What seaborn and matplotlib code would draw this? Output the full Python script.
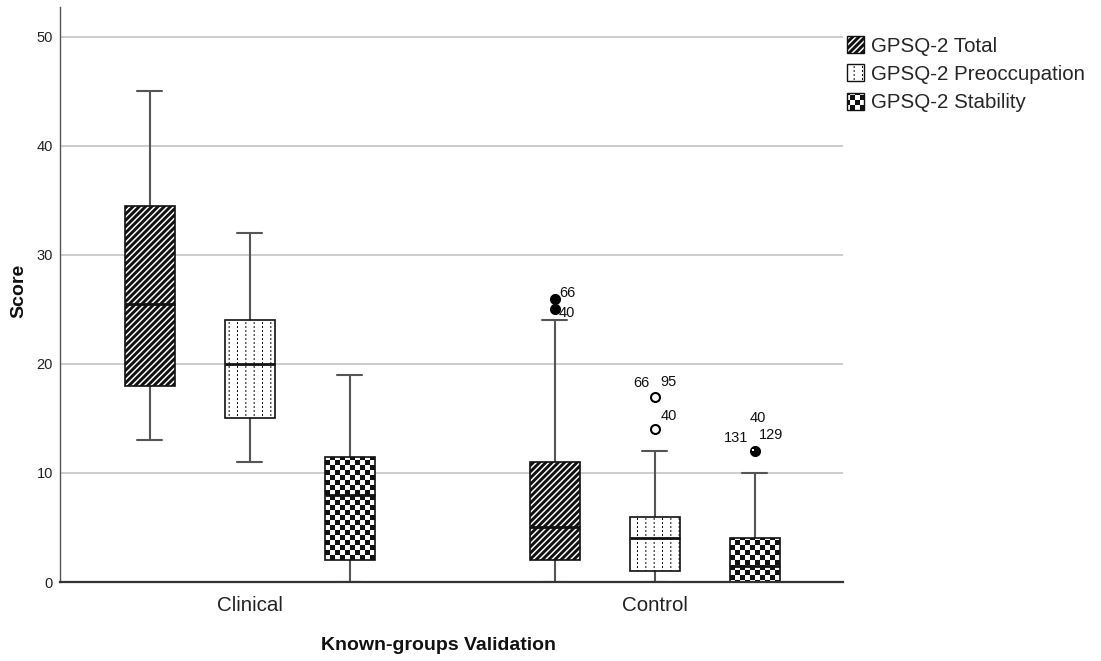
import numpy as np
import pandas as pd
import seaborn as sns
import matplotlib
matplotlib.use("Agg")
import matplotlib.pyplot as plt
import matplotlib.hatch as mhatch
from matplotlib.patches import Patch
from matplotlib.path import Path
from matplotlib.transforms import ScaledTranslation

# ---------------------------------------------------------------- data
groups = ["Clinical", "Control"]
measures = ["GPSQ-2 Total", "GPSQ-2 Preoccupation", "GPSQ-2 Stability"]

# Five-number summaries: one row per group, one column per measure
whisker_low = [[13, 11, 0], [0, 0, 0]]
quartile_1 = [[18, 15, 2], [2, 1, 0]]
medians = [[25.5, 20, 8], [5, 4, 1.5]]
quartile_3 = [[34.5, 24, 11.5], [11, 6, 4]]
whisker_high = [[45, 32, 19], [24, 12, 10]]

# Outlying cases
outlier_group = ["Control", "Control", "Control", "Control", "Control"]
outlier_measure = ["GPSQ-2 Total", "GPSQ-2 Total", "GPSQ-2 Preoccupation",
                   "GPSQ-2 Preoccupation", "GPSQ-2 Stability"]
outlier_score = [26, 25, 17, 14, 12]
outlier_cases = [["66"], ["40"], ["66", "95"], ["40"], ["40", "131", "129"]]

y_ticks = [0, 10, 20, 30, 40, 50]

# ---------------------------------------------------------------- fill patterns
def _polygons(polys):
    verts, codes = [], []
    for p in polys:
        verts.extend(list(p) + [p[0]])
        codes.extend([Path.MOVETO] + [Path.LINETO] * (len(p) - 1) + [Path.CLOSEPOLY])
    return np.array(verts, float), np.array(codes, dtype=Path.code_type)


def _rect(x0, y0, x1, y1):
    return [(x0, y0), (x1, y0), (x1, y1), (x0, y1)]


class _FilledPattern:
    char = None

    def __init__(self, hatch, density):
        if hatch.count(self.char):
            self.verts, self.codes = _polygons(self.shapes())
        else:
            self.verts, self.codes = np.empty((0, 2)), np.empty(0, dtype=Path.code_type)
        self.num_vertices = len(self.codes)

    def set_vertices_and_codes(self, vertices, codes):
        vertices[:] = self.verts
        codes[:] = self.codes


class DiagonalBands(_FilledPattern):
    char = "/"

    def shapes(self):
        n = 16
        w = 0.66 / n
        return [[(k / n, 0), (k / n + w, 0), (k / n + w + 1, 1), (k / n + 1, 1)]
                for k in range(-n, n)]


class DottedColumns(_FilledPattern):
    char = "|"

    def shapes(self):
        cols, rows, hw = 12, 25, 0.005
        out = []
        for i in range(cols):
            xc = (i + 0.5) / cols
            for j in range(rows):
                out.append(_rect(xc - hw, j / rows, xc + hw, (j + 0.5) / rows))
        return out


class Checkerboard(_FilledPattern):
    char = "+"

    def shapes(self):
        n = 20
        return [_rect(i / n, j / n, (i + 1) / n, (j + 1) / n)
                for i in range(n) for j in range(n) if (i + j) % 2 == 0]


mhatch._hatch_types[:] = [DiagonalBands, DottedColumns, Checkerboard]
pattern_of = {"GPSQ-2 Total": "/", "GPSQ-2 Preoccupation": "|", "GPSQ-2 Stability": "+"}

# ---------------------------------------------------------------- style
sns.set_theme(style="white")
plt.rcParams["font.family"] = ["Liberation Sans", "DejaVu Sans"]
plt.rcParams["hatch.linewidth"] = 0.01

W, H = 1101, 661
fig, ax = plt.subplots(figsize=(W / 100, H / 100), dpi=100)
fig.subplots_adjust(left=60 / W, right=843 / W, bottom=1 - 582 / H, top=1 - 7 / H)

dodge = 0.247
box_w = 0.1235


def xpos(group, measure):
    return groups.index(group) + (measures.index(measure) - 1) * dodge


# ---------------------------------------------------------------- boxes
stats, positions = [], []
for gi, g in enumerate(groups):
    for mi, m in enumerate(measures):
        stats.append(dict(med=medians[gi][mi], q1=quartile_1[gi][mi], q3=quartile_3[gi][mi],
                          whislo=whisker_low[gi][mi], whishi=whisker_high[gi][mi], fliers=[]))
        positions.append(xpos(g, m))

parts = ax.bxp(stats, positions=positions, widths=box_w, capwidths=box_w / 2,
               patch_artist=True, showfliers=False, manage_ticks=False,
               boxprops=dict(facecolor="white", edgecolor="#111111", linewidth=1.2),
               whiskerprops=dict(color="#555555", linewidth=1.5),
               capprops=dict(color="#555555", linewidth=1.5),
               medianprops=dict(color="#111111", linewidth=2.0))

for k, box in enumerate(parts["boxes"]):
    box.set_hatch(pattern_of[measures[k % len(measures)]])
    box.set_zorder(3)
for line in parts["medians"]:
    line.set_zorder(4)
for line in parts["whiskers"] + parts["caps"]:
    line.set_zorder(2.5)

# ---------------------------------------------------------------- outliers
out = pd.DataFrame({"group": outlier_group, "measure": outlier_measure,
                    "score": outlier_score, "cases": outlier_cases})
out["x"] = [xpos(g, m) for g, m in zip(out["group"], out["measure"])]

marker_face = {"GPSQ-2 Total": "black", "GPSQ-2 Preoccupation": "white",
               "GPSQ-2 Stability": "black"}
for m in measures:
    sub = out[out["measure"] == m]
    if len(sub):
        sns.scatterplot(data=sub, x="x", y="score", ax=ax, marker="o", s=42,
                        color=marker_face[m], edgecolor="black", linewidth=1.5,
                        legend=False, zorder=5)

# small white notch on the overlapping-cases marker
stab = out[out["measure"] == "GPSQ-2 Stability"]
notch = ax.transData + ScaledTranslation(-1.2 / 72, 1.0 / 72, fig.dpi_scale_trans)
ax.scatter(stab["x"], stab["score"], s=3, marker="s", color="white",
           linewidths=0, transform=notch, zorder=6)

# case-id labels, offsets in points (dx, dy, ha)
label_offsets = {
    ("GPSQ-2 Total", 26): [(3.6, 4.0, "left")],
    ("GPSQ-2 Total", 25): [(2.9, -2.6, "left")],
    ("GPSQ-2 Preoccupation", 17): [(-3.6, 9.5, "right"), (4.3, 10.6, "left")],
    ("GPSQ-2 Preoccupation", 14): [(4.3, 9.6, "left")],
    ("GPSQ-2 Stability", 12): [(2.2, 24.0, "center"), (-5.0, 9.5, "right"), (2.9, 11.3, "left")],
}
for _, r in out.iterrows():
    for case, (dx, dy, ha) in zip(r["cases"], label_offsets[(r["measure"], r["score"])]):
        ax.annotate(case, (r["x"], r["score"]), xytext=(dx, dy), textcoords="offset points",
                    ha=ha, va="center", fontsize=10.5, color="#111111", zorder=7)

# ---------------------------------------------------------------- axes
ax.set_xlim(-0.468, 1.465)
ax.set_ylim(0, 52.75)
ax.set_yticks(y_ticks)
ax.set_yticklabels([str(t) for t in y_ticks], fontsize=10.5, color="#222222")
ax.set_xticks(range(len(groups)))
ax.set_xticklabels(groups, fontsize=14.8, color="#222222")
ax.tick_params(axis="both", length=0)
ax.tick_params(axis="x", pad=10)
ax.tick_params(axis="y", pad=5)

ax.yaxis.grid(True, color="#c8c8c8", linewidth=1.3)
ax.xaxis.grid(False)
ax.set_axisbelow(True)

for side in ("top", "right"):
    ax.spines[side].set_visible(False)
ax.spines["left"].set_color("#555555")
ax.spines["left"].set_linewidth(1.0)
ax.spines["bottom"].set_color("#333333")
ax.spines["bottom"].set_linewidth(1.6)
ax.spines["bottom"].set_zorder(4)

ax.set_xlabel("Known-groups Validation", fontsize=14, fontweight="bold", color="#111111")
ax.xaxis.set_label_coords(0.484, -0.095)
ax.set_ylabel("Score", fontsize=14, fontweight="bold", color="#111111")
ax.yaxis.set_label_coords(-0.042, 0.506)

handles = [Patch(facecolor="white", edgecolor="#111111", linewidth=1.0, hatch=pattern_of[m],
                 label=m) for m in measures]
ax.legend(handles=handles, loc="upper left", bbox_to_anchor=(847 / W, 1 - 36 / H),
          bbox_transform=fig.transFigure, frameon=False, fontsize=14.8,
          handlelength=0.82, handleheight=0.9, handletextpad=0.35,
          labelspacing=0.42, borderpad=0, borderaxespad=0)

fig.savefig("out.png", dpi=100, facecolor="white")
